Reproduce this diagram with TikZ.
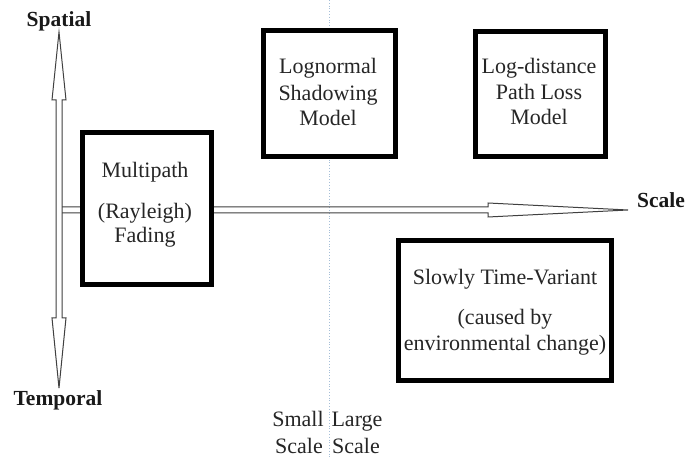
\documentclass[tikz,border=0pt]{standalone}
\usepackage{fontspec}
\setmainfont{Liberation Serif}
\begin{document}
\begin{tikzpicture}[x=1pt,y=-1pt,
  box/.style={draw=black,line width=5pt,fill=white,inner sep=0pt},
  txt/.style={anchor=base,inner sep=0pt,font=\fontsize{22}{27}\selectfont,text=black!85},
  lbl/.style={anchor=base,inner sep=0pt,font=\fontsize{21.5}{27}\selectfont\bfseries,text=black!90},
  hollow/.style={draw=black!75,line width=1pt,line join=miter},
  divider/.style={dotted,draw={rgb,255:red,165;green,190;blue,215},line width=0.8pt}]
\useasboundingbox (0,0) rectangle (686,457);
\fill[white] (0,0) rectangle (686,457);

% axis labels
\node[lbl] (spatial) at (59,27) {Spatial};
\node[lbl] (temporal) at (58,405) {Temporal};
\node[lbl,anchor=base west] (scale) at (637,208) {Scale};

% arrow tips
\coordinate (vt) at (59,32);
\coordinate (vb) at (59,388);
\coordinate (ht) at (628,210);

% dotted divider
\coordinate (dtop) at (329,0);
\coordinate (dbot) at (329,457);
\draw[divider] (dtop) -- (dbot);

% vertical double hollow arrow
\draw[hollow] (vt) -- (66,100) -- (62,100) -- (62,318) -- (66,318) -- (vb)
  -- (52,318) -- (56,318) -- (56,100) -- (52,100) -- cycle;
% horizontal hollow arrow
\draw[hollow] (62,207) -- (488,207) -- (488,203) -- (ht) -- (488,217) -- (488,213) -- (62,213);

% boxes
\node[box,minimum width=129pt,minimum height=152pt] (multi) at (146.5,209) {};
\node[box,minimum width=132pt,minimum height=126pt] (logn) at (329,94) {};
\node[box,minimum width=130pt,minimum height=125pt] (logd) at (540,94.5) {};
\node[box,minimum width=213pt,minimum height=139pt] (slow) at (504.5,310.5) {};

% box texts
\node[txt] (m1) at (145,178) {Multipath};
\node[txt] (m2) at (145,219) {(Rayleigh)};
\node[txt] (m3) at (145,243) {Fading};

\node[txt] (n1) at (328,74) {Lognormal};
\node[txt] (n2) at (328,101) {Shadowing};
\node[txt] (n3) at (328,126) {Model};

\node[txt] (d1) at (539,74) {Log-distance};
\node[txt] (d2) at (539,100) {Path Loss};
\node[txt] (d3) at (539,125) {Model};

\node[txt] (s1) at (505,285) {Slowly Time-Variant};
\node[txt] (s2) at (505,325) {(caused by};
\node[txt] (s3) at (505,351) {environmental change)};

% scale labels
\node[txt] (sm1) at (298,426) {Small};
\node[txt] (sm2) at (299,453) {Scale};
\node[txt] (lg1) at (357,426) {Large};
\node[txt] (lg2) at (356,453) {Scale};
\end{tikzpicture}
\end{document}
